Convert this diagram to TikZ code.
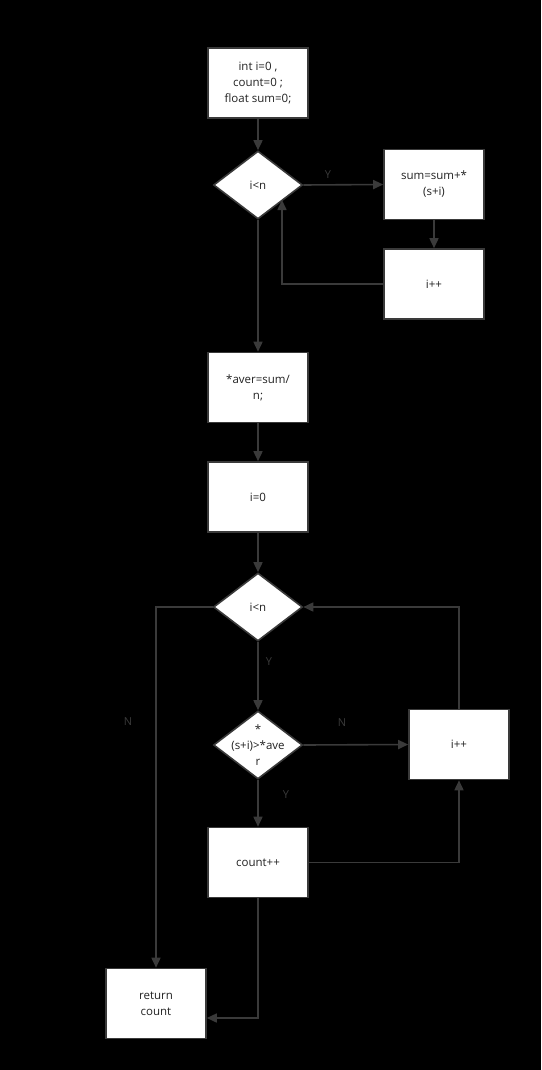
\documentclass[tikz,border=0pt]{standalone}
\usepackage{fontspec}
\setmainfont{Open Sans}
\usetikzlibrary{shapes.geometric,arrows.meta}
\definecolor{ln}{HTML}{3A3A3A}
\definecolor{tx}{HTML}{222222}
\tikzset{
  box/.style={draw=ln, line width=1.6pt, fill=white, minimum width=100pt, minimum height=70pt, inner sep=0pt, align=center, text=tx, font=\fontsize{11.5}{16}\selectfont},
  dia/.style={draw=ln, line width=1.6pt, fill=white, diamond, minimum width=89pt, minimum height=68pt, inner sep=0pt},
  dtext/.style={align=center, text=tx, font=\fontsize{11.5}{16}\selectfont},
  conn/.style={draw=ln, line width=1.6pt, -{Triangle[length=10pt,width=9pt]}},
  lab/.style={text=ln, font=\fontsize{11}{12}\selectfont}
}
\begin{document}
\begin{tikzpicture}[x=1pt,y=-1pt]
\fill[black] (0,0) rectangle (541,1070);
\useasboundingbox (0,0) rectangle (541,1070);
\node[box] (init) at (258,83) {int i=0 ,\\count=0 ;\\float sum=0;};
\node[dia] (d1) at (258,185) {};
\node[dtext] at (d1) {i<n};
\node[box] (sum) at (434,184.5) {sum=sum+*\\(s+i)};
\node[box] (inc1) at (434,284) {i++};
\node[box] (aver) at (258,387.5) {*aver=sum/\\n;};
\node[box] (iz) at (258,497) {i=0};
\node[dia] (d2) at (258,607) {};
\node[dtext] at (d2) {i<n};
\node[dia] (d3) at (258,745) {};
\node[dtext] at (d3) {*\\(s+i)>*ave\\r};
\node[box] (inc2) at (459,744.5) {i++};
\node[box] (cnt) at (258,862.5) {count++};
\node[box] (ret) at (156,1003.5) {return\\count};
\coordinate (c1) at (282,284);
\coordinate (c1t) at (282,200);
\coordinate (c2) at (156,607);
\coordinate (c3) at (459,862.5);
\coordinate (c4) at (459,607);
\coordinate (c5) at (258,1018);
\draw[conn] (init) -- (d1);
\draw[conn] (d1.east) -- (sum.west);
\draw[conn] (sum) -- (inc1);
\draw[conn] (inc1.west) -- (c1) -- (c1t);
\draw[conn] (d1.south) -- (aver.north);
\draw[conn] (aver) -- (iz);
\draw[conn] (iz) -- (d2);
\draw[conn] (d2.west) -- (c2) -- (ret.north);
\draw[conn] (d2.south) -- (d3.north);
\draw[conn] (d3.east) -- (inc2.west);
\draw[conn] (d3.south) -- (cnt.north);
\draw[conn] (cnt.east) -- (c3) -- (inc2.south);
\draw[conn] (inc2.north) -- (c4) -- (d2.east);
\draw[conn] (cnt.south) -- (c5) -- (ret.east |- c5);
\node[lab] at (328,175) {Y};
\node[lab] at (269,662) {Y};
\node[lab] at (342,723) {N};
\node[lab] at (286,795) {Y};
\node[lab] at (128,722) {N};
\end{tikzpicture}
\end{document}
